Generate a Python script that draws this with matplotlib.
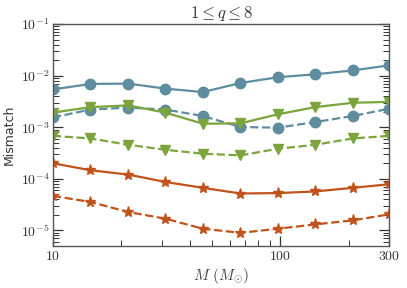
import numpy as np
import matplotlib
matplotlib.use("Agg")
import matplotlib.pyplot as plt

plt.rcParams["mathtext.fontset"] = "cm"

# total mass grid (M_sun)
mass = [10, 14.6, 21.4, 31.2, 45.6, 66.7, 97.4, 142, 208, 300]

# mismatch values
blue_solid = [5.4e-3, 6.9e-3, 7.0e-3, 5.6e-3, 4.8e-3, 7.2e-3, 9.3e-3, 1.06e-2, 1.26e-2, 1.58e-2]
blue_dashed = [1.55e-3, 2.2e-3, 2.4e-3, 2.2e-3, 1.65e-3, 1.01e-3, 9.8e-4, 1.26e-3, 1.65e-3, 2.28e-3]
green_solid = [1.92e-3, 2.45e-3, 2.65e-3, 1.92e-3, 1.17e-3, 1.19e-3, 1.78e-3, 2.45e-3, 2.98e-3, 3.1e-3]
green_dashed = [6.8e-4, 6.07e-4, 4.57e-4, 3.66e-4, 3.07e-4, 2.85e-4, 3.83e-4, 4.57e-4, 6.07e-4, 6.8e-4]
orange_solid = [2.0e-4, 1.47e-4, 1.21e-4, 8.7e-5, 6.7e-5, 5.2e-5, 5.3e-5, 5.7e-5, 6.7e-5, 7.85e-5]
orange_dashed = [4.67e-5, 3.57e-5, 2.28e-5, 1.69e-5, 1.08e-5, 9.0e-6, 1.08e-5, 1.31e-5, 1.57e-5, 2.05e-5]

blue = "#5e8d9f"
green = "#7ba43c"
orange = "#c1521c"

fig = plt.figure(figsize=(4.07, 2.88), dpi=100)
ax = fig.add_axes([53 / 407, 1 - 246 / 288, 336 / 407, 222 / 288])

ax.plot(mass, blue_solid, "-", color=blue, marker="o", ms=7.5, lw=1.6)
ax.plot(mass, blue_dashed, "--", color=blue, marker="o", ms=7.5, lw=1.6)
ax.plot(mass, green_solid, "-", color=green, marker="v", ms=7.5, lw=1.6)
ax.plot(mass, green_dashed, "--", color=green, marker="v", ms=7.5, lw=1.6)
ax.plot(mass, orange_solid, "-", color=orange, marker="*", ms=8, lw=1.6)
ax.plot(mass, orange_dashed, "--", color=orange, marker="*", ms=8, lw=1.6)

ax.set_xscale("log")
ax.set_yscale("log")
ax.set_xlim(10, 300)
ax.set_ylim(5e-6, 1e-1)

ax.set_xticks([10, 100, 300])
ax.set_xticklabels(["$10$", "$100$", "$300$"])
ax.set_yticks([1e-5, 1e-4, 1e-3, 1e-2, 1e-1])
ax.set_yticklabels(["$10^{-5}$", "$10^{-4}$", "$10^{-3}$", "$10^{-2}$", "$10^{-1}$"])

ax.tick_params(which="both", direction="in", colors="#333333", labelsize=10, pad=2.5)
ax.tick_params(axis="y", which="both", right=True)
ax.tick_params(which="major", length=7, width=0.9)
ax.tick_params(which="minor", length=4, width=0.7)
for s in ax.spines.values():
    s.set_color("#555555")
    s.set_linewidth(1.0)

ax.set_xlabel(r"$M\ (M_{\odot})$", fontsize=11, color="#444444", labelpad=2)
ax.set_ylabel("Mismatch", fontsize=9, color="#333333", labelpad=4)
ax.set_title(r"$1 \leq q \leq 8$", fontsize=12, color="#333333", pad=4)

fig.savefig("out.png", dpi=100)
